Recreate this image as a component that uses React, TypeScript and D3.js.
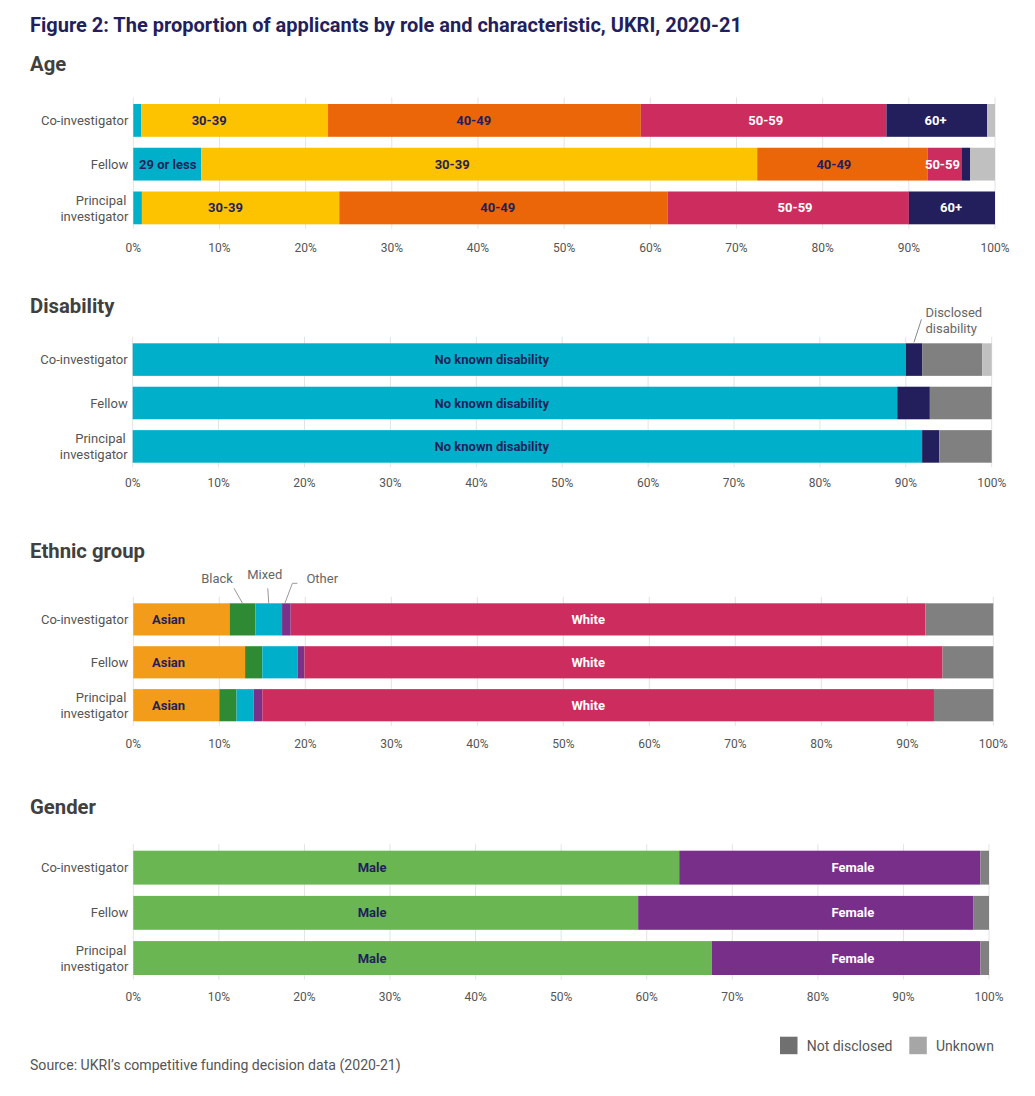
import React from "react";
import * as d3 from "d3";

// ---------- DATA (percent of applicants) ----------
const roles = ["Co-investigator", "Fellow", "Principal investigator"];

const ageGroups = ["29 or less", "30-39", "40-49", "50-59", "60+", "Unknown"];
const ageCoInvestigator = [0.9, 21.7, 36.3, 28.5, 11.7, 0.9];
const ageFellow = [7.9, 64.5, 19.8, 3.9, 1.0, 2.9];
const agePrincipal = [1.0, 22.9, 38.1, 28.0, 10.0, 0];
// where each segment label sits along the axis (%), null = no label
const ageLabelCoInvestigator = [null, 8.8, 39.5, 73.4, 93.1, null];
const ageLabelFellow = [4.0, 37.0, 81.3, 93.9, null, null];
const ageLabelPrincipal = [null, 10.7, 42.3, 76.8, 94.9, null];

const disabilityGroups = ["No known disability", "Disclosed disability", "Not disclosed", "Unknown"];
const disabilityCoInvestigator = [90.0, 1.9, 7.0, 1.1];
const disabilityFellow = [89.0, 3.8, 7.2, 0];
const disabilityPrincipal = [91.9, 2.0, 6.1, 0];
const disabilityLabelCoInvestigator = [41.8, null, null, null];
const disabilityLabelFellow = [41.8, null, null, null];
const disabilityLabelPrincipal = [41.8, null, null, null];

const ethnicGroups = ["Asian", "Black", "Mixed", "Other", "White", "Not disclosed"];
const ethnicCoInvestigator = [11.2, 3.0, 3.1, 1.0, 73.8, 7.9];
const ethnicFellow = [13.0, 2.0, 4.1, 0.8, 74.2, 5.9];
const ethnicPrincipal = [10.0, 2.0, 2.0, 1.0, 78.1, 6.9];
const ethnicLabelCoInvestigator = [4.1, null, null, null, 52.9, null];
const ethnicLabelFellow = [4.1, null, null, null, 52.9, null];
const ethnicLabelPrincipal = [4.1, null, null, null, 52.9, null];

const genderGroups = ["Male", "Female", "Not disclosed"];
const genderCoInvestigator = [63.8, 35.2, 1.0];
const genderFellow = [59.0, 39.2, 1.8];
const genderPrincipal = [67.6, 31.4, 1.0];
const genderLabelCoInvestigator = [27.9, 84.1, null];
const genderLabelFellow = [27.9, 84.1, null];
const genderLabelPrincipal = [27.9, 84.1, null];

const tickValues = [0, 10, 20, 30, 40, 50, 60, 70, 80, 90, 100];
const legendItems = ["Not disclosed", "Unknown"];

// ---------- STYLES ----------
const NAVY = "#231f5c";
const fill: Record<string, string> = {
  "29 or less": "#00b0ca",
  "30-39": "#fdc300",
  "40-49": "#eb6608",
  "50-59": "#cc2c5e",
  "60+": "#231f5c",
  Unknown: "#c0c0c0",
  "Not disclosed": "#808080",
  "No known disability": "#00b0ca",
  "Disclosed disability": "#231f5c",
  Asian: "#f39c1a",
  Black: "#2e8b34",
  Mixed: "#00b0ca",
  Other: "#7b318a",
  White: "#cc2c5e",
  Male: "#6ab652",
  Female: "#782f8a",
};
const textFill: Record<string, string> = {
  "29 or less": NAVY,
  "30-39": NAVY,
  "40-49": NAVY,
  "50-59": "#ffffff",
  "60+": "#ffffff",
  "No known disability": NAVY,
  Asian: NAVY,
  White: "#ffffff",
  Male: NAVY,
  Female: "#ffffff",
};
const legendFill: Record<string, string> = { "Not disclosed": "#707070", Unknown: "#a6a6a6" };

const FONT = "Roboto, 'Noto Sans', Arial, sans-serif";

type Annot = {
  series: string;
  lines: string[];
  kind: "disclosed" | "black" | "mixed" | "other";
};

type Panel = {
  title: string;
  series: string[];
  values: number[][];
  labels: (number | null)[][];
  layout: { titleY: number; y0: number; y1: number; x0: number; x1: number; tickY: number };
  annots: Annot[];
};

const panels: Panel[] = [
  {
    title: "Age",
    series: ageGroups,
    values: [ageCoInvestigator, ageFellow, agePrincipal],
    labels: [ageLabelCoInvestigator, ageLabelFellow, ageLabelPrincipal],
    layout: { titleY: 71, y0: 104, y1: 224.3, x0: 133.3, x1: 995, tickY: 248.3 },
    annots: [],
  },
  {
    title: "Disability",
    series: disabilityGroups,
    values: [disabilityCoInvestigator, disabilityFellow, disabilityPrincipal],
    labels: [disabilityLabelCoInvestigator, disabilityLabelFellow, disabilityLabelPrincipal],
    layout: { titleY: 312.7, y0: 343.3, y1: 462.7, x0: 132.7, x1: 991.7, tickY: 482.7 },
    annots: [{ series: "Disclosed disability", lines: ["Disclosed", "disability"], kind: "disclosed" }],
  },
  {
    title: "Ethnic group",
    series: ethnicGroups,
    values: [ethnicCoInvestigator, ethnicFellow, ethnicPrincipal],
    labels: [ethnicLabelCoInvestigator, ethnicLabelFellow, ethnicLabelPrincipal],
    layout: { titleY: 557.5, y0: 603.3, y1: 721.3, x0: 133.3, x1: 993.3, tickY: 744.3 },
    annots: [
      { series: "Black", lines: ["Black"], kind: "black" },
      { series: "Mixed", lines: ["Mixed"], kind: "mixed" },
      { series: "Other", lines: ["Other"], kind: "other" },
    ],
  },
  {
    title: "Gender",
    series: genderGroups,
    values: [genderCoInvestigator, genderFellow, genderPrincipal],
    labels: [genderLabelCoInvestigator, genderLabelFellow, genderLabelPrincipal],
    layout: { titleY: 814, y0: 850.7, y1: 975, x0: 133.3, x1: 989, tickY: 996.7 },
    annots: [],
  },
];

function PanelView({ p }: { p: Panel }) {
  const L = p.layout;
  const x = d3.scaleLinear().domain([0, 100]).range([L.x0, L.x1]);
  const y = d3.scaleBand<string>().domain(roles).range([L.y0, L.y1]).paddingInner(0.25).paddingOuter(0);
  const rows = roles.map((r, i) => {
    const o: Record<string, any> = { role: r };
    p.series.forEach((s, j) => (o[s] = p.values[i][j]));
    return o;
  });
  const stacked = d3.stack<Record<string, any>>().keys(p.series)(rows);
  const bw = y.bandwidth();
  const gridTop = L.y0 - 6.5;
  const gridBottom = L.y1 + 4.5;

  return (
    <g>
      <text x={30} y={L.titleY} fontFamily={FONT} fontWeight={700} fontSize={20.3} fill="#404040">
        {p.title}
      </text>
      {tickValues.map((t) => (
        <line key={"g" + t} x1={x(t)} x2={x(t)} y1={gridTop} y2={gridBottom} stroke="#e3e3e3" strokeWidth={1} />
      ))}
      {tickValues.map((t) => (
        <text
          key={"t" + t}
          x={x(t)}
          y={L.tickY}
          textAnchor="middle"
          dominantBaseline="central"
          fontFamily={FONT}
          fontSize={12}
          fill="#555"
        >
          {t}%
        </text>
      ))}
      {stacked.map((layer) =>
        layer.map((d, i) => {
          const w = x(d[1]) - x(d[0]);
          if (w <= 0) return null;
          return (
            <rect
              key={layer.key + i}
              x={x(d[0])}
              y={y(roles[i])!}
              width={w}
              height={bw}
              fill={fill[layer.key]}
            />
          );
        })
      )}
      {stacked.map((layer, j) =>
        layer.map((d, i) => {
          const at = p.labels[i][j];
          if (at == null) return null;
          return (
            <text
              key={"l" + layer.key + i}
              x={x(at)}
              y={y(roles[i])! + bw / 2}
              textAnchor="middle"
              dominantBaseline="central"
              fontFamily={FONT}
              fontWeight={700}
              fontSize={13}
              fill={textFill[layer.key]}
            >
              {layer.key}
            </text>
          );
        })
      )}
      {roles.map((r) => {
        const cy = y(r)! + bw / 2;
        const parts = r === "Principal investigator" ? ["Principal", "investigator"] : [r];
        return (
          <text
            key={"c" + r}
            x={L.x0 - 5}
            y={cy}
            textAnchor="end"
            dominantBaseline="central"
            fontFamily={FONT}
            fontSize={13}
            fill="#555"
          >
            {parts.length === 1 ? (
              parts[0]
            ) : (
              <>
                <tspan x={L.x0 - 7} y={cy - 8}>
                  {parts[0]}
                </tspan>
                <tspan x={L.x0 - 5} y={cy + 8}>
                  {parts[1]}
                </tspan>
              </>
            )}
          </text>
        );
      })}
      {p.annots.map((a) => {
        const j = p.series.indexOf(a.series);
        const seg = stacked[j][0];
        const sx = (x(seg[0]) + x(seg[1])) / 2;
        const sy = y(roles[0])!;
        const tp = { fontFamily: FONT, fontSize: 13, fill: "#666" };
        if (a.kind === "disclosed") {
          return (
            <g key={a.series}>
              <line x1={sx} y1={sy - 1} x2={sx + 7.5} y2={sy - 24} stroke="#888" />
              <text x={sx + 11.5} y={sy - 31} dominantBaseline="central" {...tp}>
                {a.lines[0]}
              </text>
              <text x={sx + 11.5} y={sy - 15} dominantBaseline="central" {...tp}>
                {a.lines[1]}
              </text>
            </g>
          );
        }
        if (a.kind === "black") {
          return (
            <g key={a.series}>
              <line x1={sx} y1={sy} x2={sx - 8.5} y2={sy - 15} stroke="#999" />
              <text x={sx - 25.5} y={sy - 25} textAnchor="middle" dominantBaseline="central" {...tp}>
                {a.lines[0]}
              </text>
            </g>
          );
        }
        if (a.kind === "mixed") {
          return (
            <g key={a.series}>
              <line x1={sx} y1={sy} x2={sx - 1} y2={sy - 15} stroke="#999" />
              <text x={sx - 4} y={sy - 29} textAnchor="middle" dominantBaseline="central" {...tp}>
                {a.lines[0]}
              </text>
            </g>
          );
        }
        return (
          <g key={a.series}>
            <polyline
              points={`${sx - 1.5},${sy} ${sx + 6},${sy - 20} ${sx + 11},${sy - 20}`}
              fill="none"
              stroke="#999"
            />
            <text x={sx + 20} y={sy - 25} dominantBaseline="central" {...tp}>
              {a.lines[0]}
            </text>
          </g>
        );
      })}
    </g>
  );
}

export default function App() {
  const legendX = [780, 909.3];
  return (
    <svg
      width={1035}
      height={1096}
      style={{ position: "absolute", left: 0, top: 0, display: "block", background: "#fff" }}
    >
      <rect x={0} y={0} width={1035} height={1096} fill="#fff" />
      <text x={30} y={31.5} fontFamily={FONT} fontWeight={700} fontSize={20} fill={NAVY}>
        Figure 2: The proportion of applicants by role and characteristic, UKRI, 2020-21
      </text>
      {panels.map((p) => (
        <PanelView key={p.title} p={p} />
      ))}
      {legendItems.map((item, i) => (
        <g key={item}>
          <rect x={legendX[i]} y={1036.7} width={17.5} height={17.5} fill={legendFill[item]} />
          <text
            x={legendX[i] + 26.7}
            y={1045.5}
            dominantBaseline="central"
            fontFamily={FONT}
            fontSize={14}
            fill="#555"
          >
            {item}
          </text>
        </g>
      ))}
      <text x={30} y={1065} dominantBaseline="central" fontFamily={FONT} fontSize={14.1} fill="#555">
        Source: UKRI’s competitive funding decision data (2020-21)
      </text>
    </svg>
  );
}
